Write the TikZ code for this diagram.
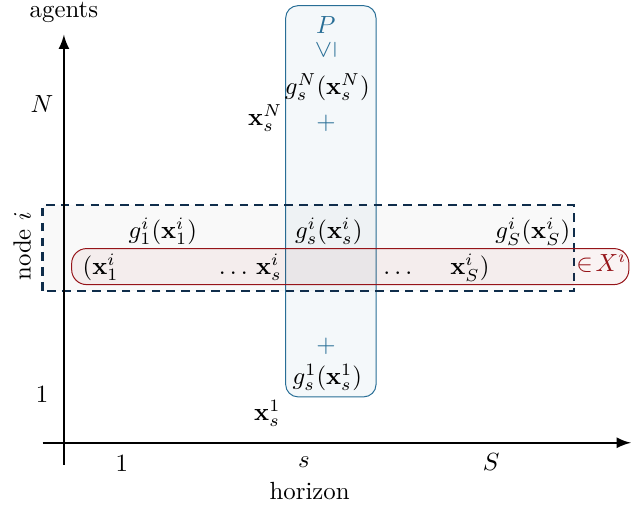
\documentclass[tikz,border=0pt]{standalone}
\usepackage{graphicx}
\usetikzlibrary{arrows}

\definecolor{horizonblue}{RGB}{40,110,150}
\definecolor{nodenavy}{RGB}{15,45,75}
\definecolor{setred}{RGB}{150,20,25}

\begin{document}
\begin{tikzpicture}[scale=1, every node/.style={inner sep=1.5pt},
    axis/.style={line width=1pt, -latex},
    bluetxt/.style={text=horizonblue},
    rowtxt/.style={anchor=base, inner sep=1pt}]
        % \draw[help lines, gray!50, very thin] (0,0) grid (8,6);
        \useasboundingbox (-0.905,-0.92) rectangle (8.03,6.27);

        % time slot s (column)
        \draw[horizonblue, fill=horizonblue!5, rounded corners=5pt] (3.14,0.65) rectangle (4.42,6.19);

        % node i (row)
        \draw[nodenavy, line width=1pt, dash pattern=on 3.5pt off 2.5pt, fill=black, fill opacity=0.025] (-0.30,2.15) rectangle (7.22,3.37);
        \draw[setred, fill=setred, fill opacity=0.05, rounded corners=6pt] (0.11,2.24) rectangle (8.00,2.75);

        % axes
        \coordinate (xstart) at (-0.30,0);
        \coordinate (xend) at (8.03,0);
        \coordinate (ystart) at (0,-0.31);
        \coordinate (yend) at (0,5.78);
        \draw[axis] (xstart) -- (xend);
        \draw[axis] (ystart) -- (yend);

        \node (agents) at (0,6.09) {agents};
        \node (horizon) at (3.48,-0.69) {horizon};
        \node (tick1) at (0.82,-0.29) {$1$};
        \node (ticks) at (3.40,-0.27) {$s$};
        \node (tickS) at (6.05,-0.27) {$S$};
        \node (tickN) at (-0.31,4.79) {$N$};
        \node (tickone) at (-0.31,0.68) {$1$};
        \node[rotate=90] (nodei) at (-0.59,2.78) {node $i$};

        % column s
        \node[bluetxt] (P) at (3.71,5.92) {$P$};
        \node[bluetxt] (leq) at (3.71,5.57) {\rotatebox{90}{$\leq$}};
        \node (gN) at (3.73,5.04) {$g_s^N(\mathbf{x}_s^N)$};
        \node[bluetxt] (plusN) at (3.71,4.53) {$+$};
        \node (xN) at (2.85,4.60) {$\mathbf{x}_s^N$};
        \node[bluetxt] (plusone) at (3.71,1.37) {$+$};
        \node (gone) at (3.73,0.92) {$g_s^1(\mathbf{x}_s^1)$};
        \node (xone) at (2.88,0.42) {$\mathbf{x}_s^1$};

        % row i
        \node (gi1) at (1.40,2.99) {$g_1^i(\mathbf{x}_1^i)$};
        \node (gis) at (3.75,2.99) {$g_s^i(\mathbf{x}_s^i)$};
        \node (giS) at (6.64,2.99) {$g_S^i(\mathbf{x}_S^i)$};
        \node[rowtxt] (xi1) at (0.52,2.38) {$(\mathbf{x}_1^i$};
        \node[rowtxt] (xis) at (2.64,2.38) {$\ldots\,\mathbf{x}_s^i$};
        \node[rowtxt] (dots) at (4.73,2.38) {$\ldots$};
        \node[rowtxt] (xiS) at (5.75,2.38) {$\mathbf{x}_S^i)$};
        \node[rowtxt, text=setred] (inX) at (7.61,2.43) {$\in\!X^i$};
      \end{tikzpicture}
\end{document}
